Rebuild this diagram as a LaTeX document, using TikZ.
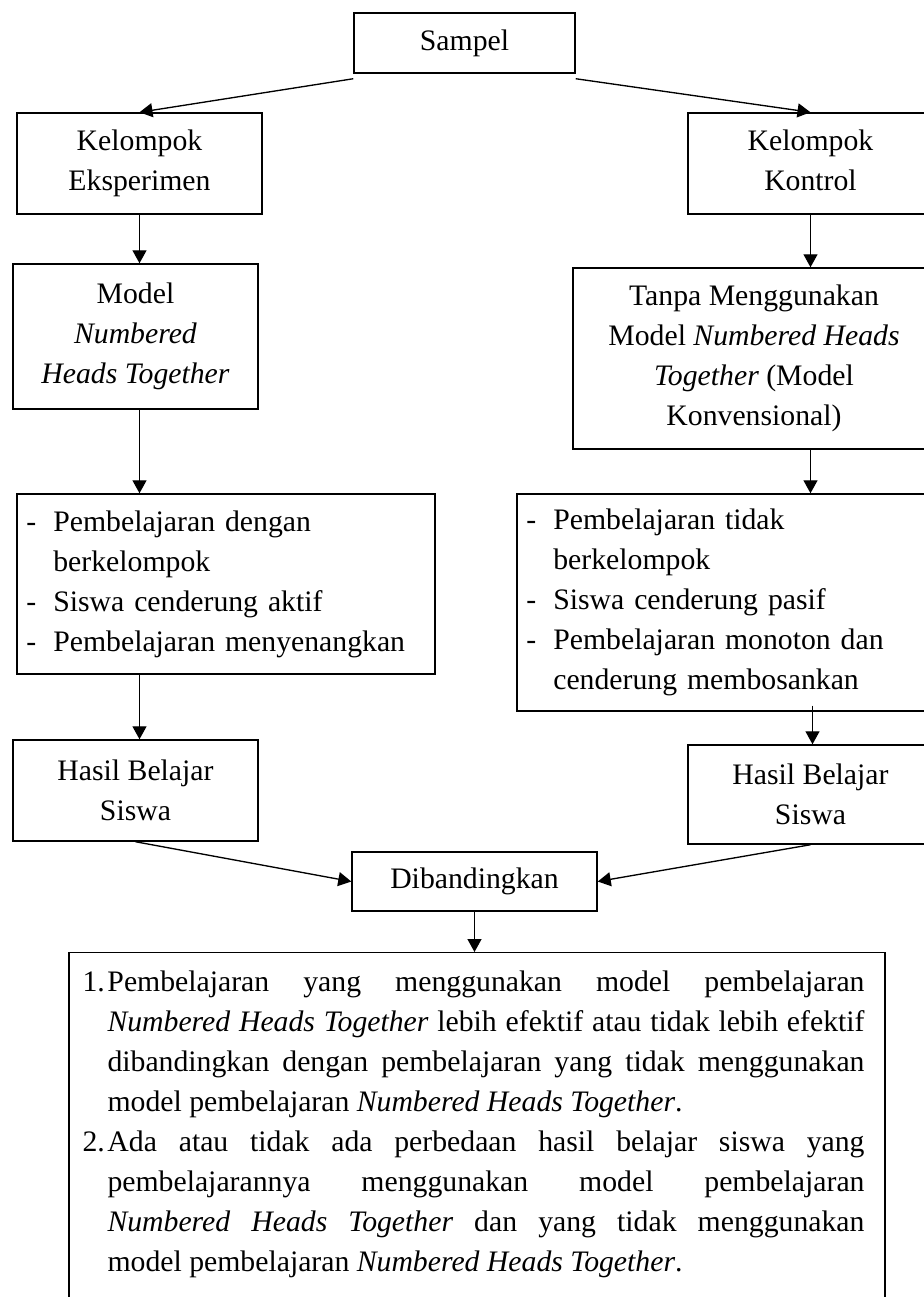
\documentclass[tikz,border=0pt]{standalone}
\usepackage{fontspec}
\setmainfont{Liberation Serif}
\usetikzlibrary{arrows.meta,calc}

\newcommand{\butir}{\makebox[20.25pt][l]{-}}
\newcommand{\lanjut}{\hspace*{20.25pt}}
\newcommand{\nomor}[1]{\noindent\llap{\makebox[18.75pt][l]{#1}}}

\tikzset{every picture/.style={line width=0.75pt}}
\tikzset{
	huruf/.style={font=\fontsize{22.3pt}{30pt}\selectfont},
	kotak/.style={draw, line width=1.1pt, align=center, inner sep=0pt, huruf},
	daftar/.style={draw, line width=1.1pt, align=left, inner xsep=7pt, inner ysep=0pt, text width=299.5pt, huruf},
	panah/.style={-{Triangle[length=9.75pt,width=10.5pt]}, line width=1pt}}

\begin{document}
\begin{tikzpicture}[x=0.75pt,y=0.75pt,yscale=-1,xscale=1]
\useasboundingbox (0,0) rectangle (924,1297);

% Kotak atas
\node[kotak, minimum width=165.75pt, minimum height=45pt] (sampel) at (464.5,43) {Sampel};
\node[kotak, minimum width=183.75pt, minimum height=75.75pt] (ke) at (139.5,163.5) {Kelompok\\Eksperimen};
\node[kotak, minimum width=183.75pt, minimum height=75.75pt] (kk) at (810.5,163.5) {Kelompok\\Kontrol\vphantom{p}};

% Perlakuan
\node[kotak, minimum width=183.75pt, minimum height=108.75pt] (model) at (135.5,336.5) {Model\\\textit{Numbered}\\\textit{Heads Together}};
\node[kotak, minimum width=271.5pt, minimum height=135.75pt] (tanpa) at (754,358.5) {Tanpa Menggunakan\\Model \textit{Numbered Heads}\\\textit{Together} (Model\\Konvensional)};

% Ciri pembelajaran
\node[daftar, minimum height=135pt] (cirieks) at (226,584) {\butir Pembelajaran dengan\\\lanjut berkelompok\\\butir Siswa cenderung aktif\\\butir Pembelajaran menyenangkan};
\node[daftar, minimum height=162.75pt] (cirikon) at (726,602.5) {\butir Pembelajaran tidak\\\lanjut berkelompok\\\butir Siswa cenderung pasif\\\butir Pembelajaran monoton dan\\\lanjut cenderung membosankan};

% Hasil
\node[kotak, minimum width=183.75pt, minimum height=75.75pt] (hasileks) at (135.5,790.5) {Hasil Belajar\\Siswa};
\node[kotak, minimum width=183.75pt, minimum height=74.25pt] (hasilkon) at (810.5,794.5) {Hasil Belajar\\Siswa};
\node[kotak, minimum width=183.75pt, minimum height=44.25pt] (dibandingkan) at (474.5,881.5) {Dibandingkan};

% Kesimpulan
\node[draw, line width=1.1pt, minimum width=612pt, minimum height=285pt, anchor=north] (kesimpulan) at (477,952) {};
\node[anchor=north west, inner sep=0pt, text width=567.75pt, align=justify, huruf] (isi) at (107,970) {\leftskip=0pt
\nomor{1.}Pembelajaran yang menggunakan model pembelajaran\linebreak \textit{Numbered Heads Together} lebih efektif atau tidak lebih efektif\linebreak dibandingkan dengan pembelajaran yang tidak menggunakan\linebreak model pembelajaran \textit{Numbered Heads Together}.\par
\nomor{2.}Ada atau tidak ada perbedaan hasil belajar siswa yang\linebreak pembelajarannya menggunakan model pembelajaran\linebreak \textit{Numbered Heads Together} dan yang tidak menggunakan\linebreak model pembelajaran \textit{Numbered Heads Together}.};

% Panah
\draw[panah] ([yshift=3.75pt]sampel.south west) -- (ke.north);
\draw[panah] ([yshift=3.75pt]sampel.south east) -- (kk.north);
\draw[panah] (ke.south) -- (ke.south |- model.north);
\draw[panah] (kk.south) -- (kk.south |- tanpa.north);
\draw[panah] (ke.south |- model.south) -- (ke.south |- cirieks.north);
\draw[panah] (kk.south |- tanpa.south) -- (kk.south |- cirikon.north);
\draw[panah] (ke.south |- cirieks.south) -- (ke.south |- hasileks.north);
\draw[panah] ($(kk.south |- cirikon.south)+(2,-6)$) -- ($(kk.south |- hasilkon.north)+(2,0)$);
\draw[panah] (hasileks.south) -- (dibandingkan.west);
\draw[panah] (hasilkon.south) -- (dibandingkan.east);
\draw[panah] (dibandingkan.south) -- (dibandingkan.south |- kesimpulan.north);

\end{tikzpicture}
\end{document}
